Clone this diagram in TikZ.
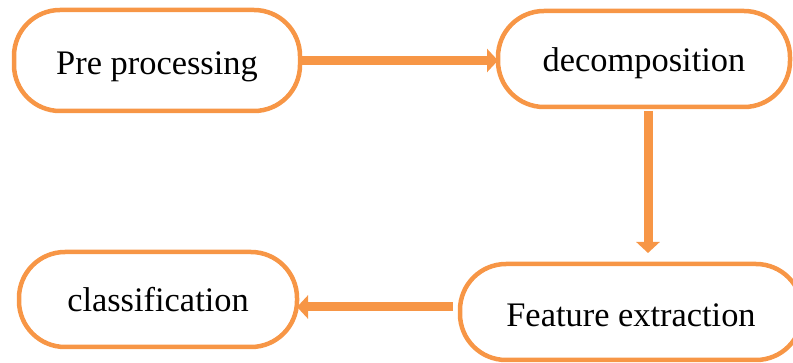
\documentclass[tikz,border=0pt]{standalone}
\usepackage{fontspec}
\setmainfont{Liberation Serif}
\usetikzlibrary{arrows.meta}
\definecolor{accent}{HTML}{F79646}
\begin{document}
\begin{tikzpicture}[x=1pt,y=-1pt,
  stage/.style={draw=accent,line width=4.5pt,rounded corners=46pt,outer sep=0pt,inner sep=0pt,
    font=\fontsize{34.4}{40}\selectfont,text height=25pt,text depth=0pt},
  flow/.style={draw=accent,line width=9pt,-{Triangle[width=23pt,length=11pt]}}]
\useasboundingbox(0,0)rectangle(793,363);
%
\node[stage,minimum width=286pt,minimum height=101pt,text height=29pt](pp)at(157,60.5){Pre processing};
\node[stage,minimum width=292pt,minimum height=96pt](dc)at(644,59){decomposition};
\node[stage,minimum width=342pt,minimum height=96pt,text height=29pt](fe)at(631,312){Feature extraction};
\node[stage,minimum width=278pt,minimum height=95pt](cl)at(158,299.5){classification};
%
\draw[flow](pp.east)--(pp.east-|dc.west);
\draw[flow]([xshift=4pt,yshift=-4pt]dc.south)--([xshift=4pt,yshift=11pt]dc.south|-fe.north);
\draw[flow]([xshift=-7pt,yshift=5pt]fe.west)--([yshift=5pt]fe.west-|cl.east);
\end{tikzpicture}
\end{document}
